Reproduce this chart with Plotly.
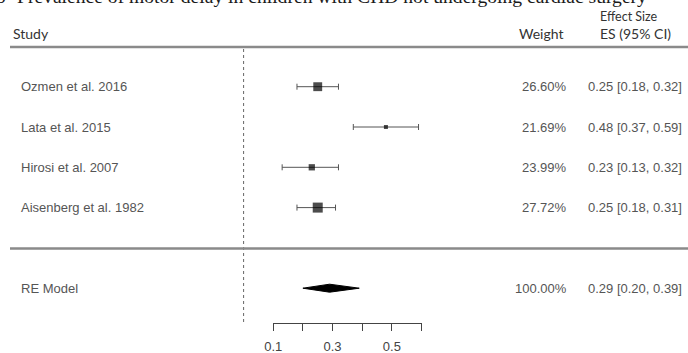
import plotly.graph_objects as go

# ---------------- data ----------------
studies = ["Ozmen et al. 2016", "Lata et al. 2015", "Hirosi et al. 2007", "Aisenberg et al. 1982"]
es = [0.25, 0.48, 0.23, 0.25]
ci_lo = [0.18, 0.37, 0.13, 0.18]
ci_hi = [0.32, 0.59, 0.32, 0.31]
weights = [26.60, 21.69, 23.99, 27.72]
rows = [4, 3, 2, 1]

re_label = "RE Model"
re_es = 0.29
re_lo = 0.20
re_hi = 0.39
re_weight = 100.00
re_row = -1

tick_vals = [0.1, 0.2, 0.3, 0.4, 0.5, 0.6]
tick_text = ["0.1", "", "0.3", "", "0.5", ""]

title_text = "Prevalence of motor delay in children with CHD not undergoing cardiac surgery"
panel_letter = "b"
hdr_study = "Study"
hdr_weight = "Weight"
hdr_es_top = "Effect Size"
hdr_es = "ES (95% CI)"

# ---------------- layout geometry (screen pixels) ----------------
W, H = 688, 353
OFF = 0         # body margin removed via post_script
X0 = 243.6      # screen pixel of value 0
PPU = 296.5     # pixels per unit
ROW_TOP_PX = 86.7
ROW_PX = 40.3


def ypx(p):
    return 4 - (p - ROW_TOP_PX) / ROW_PX


def xpaper(p):
    return (p - OFF) / W


def ypaper(p):
    return 1 - (p - OFF) / H


xr = [-(X0 - OFF) / PPU, (W - (X0 - OFF)) / PPU]
yr = [ypx(H + OFF), ypx(OFF)]

wmin, wmax = min(weights), max(weights)
msizes = [4 + (w - wmin) / (wmax - wmin) * 6 for w in weights]

TXT = dict(family="Liberation Sans, Arial, sans-serif", size=13, color="#555555")
HDR = dict(family="Lato, sans-serif", size=14, color="#333333")

fig = go.Figure()

# invisible trace for the tick axis
fig.add_trace(go.Scatter(x=[tick_vals[0], tick_vals[-1]], y=[None, None], xaxis="x2", yaxis="y",
                         mode="markers", showlegend=False, hoverinfo="skip"))

# confidence intervals
fig.add_trace(go.Scatter(
    x=es, y=rows, mode="markers",
    marker=dict(size=1, opacity=0),
    error_x=dict(type="data", symmetric=False,
                 array=[h - e for h, e in zip(ci_hi, es)],
                 arrayminus=[e - l for e, l in zip(es, ci_lo)],
                 color="#555555", thickness=1, width=3),
    hoverinfo="skip", showlegend=False,
))
# point estimates (squares sized by weight)
fig.add_trace(go.Scatter(
    x=es, y=rows, mode="markers",
    marker=dict(symbol="square", size=msizes, color="black", line=dict(width=0)),
    hoverinfo="skip", showlegend=False,
))

# summary diamond
dh = 4 / ROW_PX
fig.add_trace(go.Scatter(
    x=[re_lo, re_es, re_hi, re_es, re_lo],
    y=[re_row, re_row + dh, re_row, re_row - dh, re_row],
    mode="lines", fill="toself", fillcolor="black",
    line=dict(color="black", width=1), hoverinfo="skip", showlegend=False,
))

shapes = [
    dict(type="line", xref="x", yref="y", x0=0, x1=0, y0=ypx(322), y1=ypx(47),
         line=dict(color="#666666", width=1, dash="dot")),
    dict(type="line", xref="paper", yref="y", x0=xpaper(10), x1=1, y0=ypx(47), y1=ypx(47),
         line=dict(color="#8a8a8a", width=2.5)),
    dict(type="line", xref="paper", yref="y", x0=xpaper(10), x1=1, y0=ypx(248.5), y1=ypx(248.5),
         line=dict(color="#8a8a8a", width=2.5)),
]

ann = []
# title (cut off at top, as in the source)
ann.append(dict(text=title_text, x=xpaper(15), y=ypaper(-3), xref="paper", yref="paper",
                xanchor="left", yanchor="middle", showarrow=False,
                font=dict(family="Liberation Serif, serif", size=19.6, color="#1a1a1a")))
ann.append(dict(text=panel_letter, x=xpaper(1), y=ypaper(-3), xref="paper", yref="paper",
                xanchor="center", yanchor="middle", showarrow=False,
                font=dict(family="Liberation Serif, serif", size=19.6, color="#1a1a1a")))
# headers
ann.append(dict(text=hdr_study, x=xpaper(11), y=ypx(33), xref="paper", yref="y",
                xanchor="left", yanchor="middle", showarrow=False, font=HDR))
ann.append(dict(text=hdr_weight, x=xpaper(565), y=ypx(33), xref="paper", yref="y",
                xanchor="right", yanchor="middle", showarrow=False, font=HDR))
ann.append(dict(text=hdr_es, x=xpaper(598), y=ypx(33), xref="paper", yref="y",
                xanchor="left", yanchor="middle", showarrow=False, font=HDR))
ann.append(dict(text=hdr_es_top, x=xpaper(598), y=ypx(16), xref="paper", yref="y",
                xanchor="left", yanchor="middle", showarrow=False,
                font=dict(family="Lato, sans-serif", size=12.5, color="#333333")))

labels = studies + [re_label]
all_rows = rows + [re_row]
wtxt = [f"{w:.2f}%" for w in weights] + [f"{re_weight:.2f}%"]
estxt = [f"{e:.2f} [{l:.2f}, {h:.2f}]" for e, l, h in zip(es, ci_lo, ci_hi)] + \
        [f"{re_es:.2f} [{re_lo:.2f}, {re_hi:.2f}]"]
for lab, r, wt, et in zip(labels, all_rows, wtxt, estxt):
    ann.append(dict(text=lab, x=xpaper(19), y=r, xref="paper", yref="y",
                    xanchor="left", yanchor="middle", showarrow=False, font=TXT))
    ann.append(dict(text=wt, x=xpaper(569), y=r, xref="paper", yref="y",
                    xanchor="right", yanchor="middle", showarrow=False, font=TXT))
    ann.append(dict(text=et, x=xpaper(684), y=r, xref="paper", yref="y",
                    xanchor="right", yanchor="middle", showarrow=False, font=TXT))

d0 = xpaper(X0 + tick_vals[0] * PPU)
d1 = xpaper(X0 + tick_vals[-1] * PPU)

fig.update_layout(
    width=W, height=H, autosize=False,
    margin=dict(l=0, r=0, t=0, b=0, pad=0, autoexpand=False),
    paper_bgcolor="white", plot_bgcolor="rgba(0,0,0,0)",
    xaxis=dict(range=xr, visible=False, domain=[0, 1]),
    yaxis=dict(range=yr, visible=False, domain=[0, 1]),
    xaxis2=dict(domain=[d0, d1], range=[tick_vals[0], tick_vals[-1]], anchor="free",
                position=ypaper(323), side="bottom",
                showline=True, linecolor="#444444", linewidth=1,
                ticks="outside", ticklen=7, tickcolor="#444444", tickwidth=1,
                tickvals=tick_vals, ticktext=tick_text, showgrid=False, zeroline=False,
                ticklabelstandoff=4,
                tickfont=dict(family="Liberation Sans, Arial, sans-serif", size=13, color="#444444")),
    shapes=shapes, annotations=ann,
    showlegend=False,
)

fig.write_html("out.html",
               config={"displayModeBar": False},
               post_script="document.body.style.margin='0';document.body.style.overflow='hidden';")
